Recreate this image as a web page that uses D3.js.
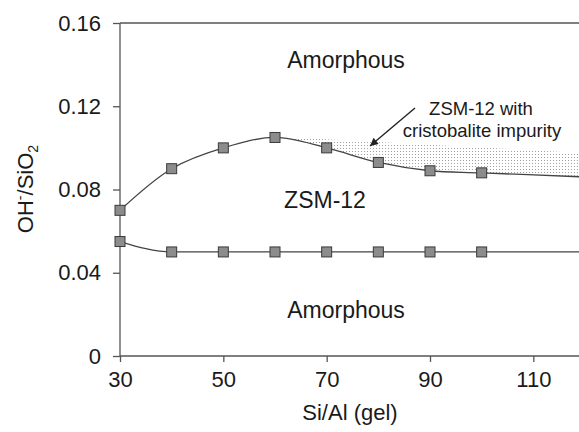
<!DOCTYPE html>
<html><head><meta charset="utf-8">
<script src="https://cdn.jsdelivr.net/npm/d3@7"></script>
<style>body{margin:0;background:#fff}svg{display:block}text{font-family:"Liberation Sans",Arial,sans-serif;fill:#1a1a1a}</style>
</head><body>
<svg id="chart" width="579" height="432"></svg>
<script>
// Data
const siAl = [30, 40, 50, 60, 70, 80, 90, 100];
const upperBoundary = [0.070, 0.090, 0.100, 0.105, 0.100, 0.093, 0.089, 0.088];
const lowerBoundary = [0.055, 0.050, 0.050, 0.050, 0.050, 0.050, 0.050, 0.050];
const lineEndSiAl = 120;
const upperEnd = 0.086;
const lowerEnd = 0.050;
const impuritySiAl = [60, 120];
const impurityTop = [0.1055, 0.0975];
const xTicks = [30, 50, 70, 90, 110];
const yTicks = [0, 0.04, 0.08, 0.12, 0.16];
const yTickLabels = ["0", "0.04", "0.08", "0.12", "0.16"];

const svg = d3.select("#chart");
const x = d3.scaleLinear().domain([30, 120]).range([120, 585]);
const y = d3.scaleLinear().domain([0, 0.16]).range([356, 23]);

const upperPts = siAl.map((s, i) => [s, upperBoundary[i]]).concat([[lineEndSiAl, upperEnd]]);
const lowerPts = siAl.map((s, i) => [s, lowerBoundary[i]]).concat([[lineEndSiAl, lowerEnd]]);
const curve = d3.curveCatmullRom.alpha(0.5);

// pattern for dotted region
const defs = svg.append("defs");
const pat = defs.append("pattern").attr("id", "dots").attr("patternUnits", "userSpaceOnUse")
  .attr("width", 3).attr("height", 3);
pat.append("rect").attr("x", 1).attr("y", 1).attr("width", 1).attr("height", 1).attr("fill", "#a0a0a0");

defs.append("clipPath").attr("id", "aboveCurve").append("path")
  .attr("d", d3.area().x(d => x(d[0])).y0(y(0.16)).y1(d => y(d[1])).curve(curve)(upperPts));

const topPts = impuritySiAl.map((s, i) => [s, impurityTop[i]]);
svg.append("path")
  .attr("d", d3.area().x(d => x(d[0])).y0(y(0)).y1(d => y(d[1]))(topPts))
  .attr("fill", "url(#dots)")
  .attr("clip-path", "url(#aboveCurve)");

// axes
const xAxis = svg.append("g").attr("transform", `translate(0,${y(0)})`)
  .call(d3.axisBottom(x).tickValues(xTicks).tickSize(6).tickPadding(9).tickFormat(d3.format("d")));
const yAxis = svg.append("g").attr("transform", `translate(${x(30)},0)`)
  .call(d3.axisLeft(y).tickValues(yTicks).tickSize(7).tickPadding(12).tickFormat((d, i) => yTickLabels[i]));
[xAxis, yAxis].forEach(g => {
  g.select(".domain").attr("stroke", "#555").attr("stroke-width", 1.3);
  g.selectAll(".tick line").attr("stroke", "#555").attr("stroke-width", 1.3);
  g.selectAll(".tick text").attr("font-size", 22).attr("fill", "#1a1a1a")
    .attr("font-family", "Liberation Sans, Arial, sans-serif");
});
xAxis.select(".domain").attr("d", `M${x(30)},0H${x(120)}`);
yAxis.select(".domain").attr("d", `M0,${y(0)}V${y(0.16)}`);
svg.append("line").attr("x1", x(30)).attr("x2", x(120)).attr("y1", y(0.16)).attr("y2", y(0.16))
  .attr("stroke", "#555").attr("stroke-width", 1.3);

// lines
const line = d3.line().x(d => x(d[0])).y(d => y(d[1])).curve(curve);
svg.append("path").attr("d", line(upperPts)).attr("fill", "none").attr("stroke", "#444").attr("stroke-width", 1.3);
svg.append("path").attr("d", d3.line().x(d => x(d[0])).y(d => y(d[1])).curve(d3.curveMonotoneX)(lowerPts))
  .attr("fill", "none").attr("stroke", "#444").attr("stroke-width", 1.3);

// markers
const ms = 10;
[upperBoundary, lowerBoundary].forEach(vals => {
  svg.append("g").selectAll("rect").data(siAl.map((s, i) => [s, vals[i]])).join("rect")
    .attr("x", d => x(d[0]) - ms / 2).attr("y", d => y(d[1]) - ms / 2)
    .attr("width", ms).attr("height", ms)
    .attr("fill", "#8c8c8c").attr("stroke", "#3a3a3a").attr("stroke-width", 1);
});

// labels
svg.append("text").attr("x", 346).attr("y", 68).attr("text-anchor", "middle").attr("font-size", 23).text("Amorphous");
svg.append("text").attr("x", 325).attr("y", 208).attr("text-anchor", "middle").attr("font-size", 23).text("ZSM-12");
svg.append("text").attr("x", 346).attr("y", 318).attr("text-anchor", "middle").attr("font-size", 23).text("Amorphous");
svg.append("text").attr("x", 481).attr("y", 115).attr("text-anchor", "middle").attr("font-size", 18.5).text("ZSM-12 with");
svg.append("text").attr("x", 482).attr("y", 137).attr("text-anchor", "middle").attr("font-size", 18.5).text("cristobalite impurity");

// arrow
defs.append("marker").attr("id", "arr").attr("viewBox", "0 0 10 10").attr("refX", 10).attr("refY", 5)
  .attr("markerWidth", 9).attr("markerHeight", 8).attr("markerUnits", "userSpaceOnUse").attr("orient", "auto")
  .append("path").attr("d", "M0,0L10,5L0,10z").attr("fill", "#222");
svg.append("line").attr("x1", 415).attr("y1", 108).attr("x2", 370).attr("y2", 146)
  .attr("stroke", "#222").attr("stroke-width", 1.4).attr("marker-end", "url(#arr)");

// axis titles
svg.append("text").attr("x", 350).attr("y", 420).attr("text-anchor", "middle").attr("font-size", 22).text("Si/Al (gel)");
const yl = svg.append("text").attr("transform", "translate(33,189) rotate(-90)").attr("text-anchor", "middle").attr("font-size", 22);
yl.append("tspan").text("OH");
yl.append("tspan").attr("dy", -8).attr("font-size", 14).text("-");
yl.append("tspan").attr("dy", 8).text("/SiO");
yl.append("tspan").attr("dy", 5).attr("font-size", 14).text("2");
</script>
</body></html>
